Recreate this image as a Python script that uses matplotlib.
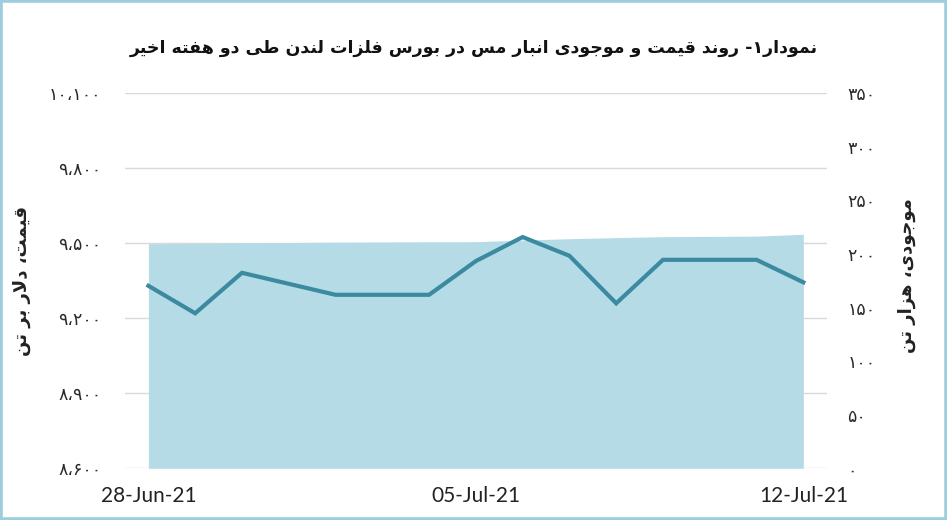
import re
import pandas as pd
import matplotlib
matplotlib.use("Agg")
import matplotlib.pyplot as plt
import matplotlib.dates as mdates
from matplotlib.patches import Rectangle

# data
dates = ["2021-06-28", "2021-06-29", "2021-06-30", "2021-07-02", "2021-07-04", "2021-07-05",
         "2021-07-06", "2021-07-07", "2021-07-08", "2021-07-09", "2021-07-11", "2021-07-12"]
price = [9330, 9220, 9382, 9294, 9294, 9429, 9525, 9450, 9260, 9434, 9434, 9344]
stock = [209.6, 210.0, 210.4, 211.0, 211.4, 211.5, 213.0, 214.3, 215.3, 216.2, 216.7, 218.4]
price_ticks = [8600, 8900, 9200, 9500, 9800, 10100]
stock_ticks = [0, 50, 100, 150, 200, 250, 300, 350]
xtick_dates = ["2021-06-28", "2021-07-05", "2021-07-12"]

title = "نمودار۱- روند قیمت و موجودی انبار مس در بورس فلزات لندن طی دو هفته اخیر"
left_label = "قیمت، دلار بر تن"
right_label = "موجودی، هزار تن"

# minimal arabic shaping, matplotlib does no joining or rtl
FORMS = {
    'ا': ('\uFE8D', '\uFE8E', None, None),
    'ب': ('\uFE8F', '\uFE90', '\uFE91', '\uFE92'),
    'ت': ('\uFE95', '\uFE96', '\uFE97', '\uFE98'),
    'ج': ('\uFE9D', '\uFE9E', '\uFE9F', '\uFEA0'),
    'خ': ('\uFEA5', '\uFEA6', '\uFEA7', '\uFEA8'),
    'د': ('\uFEA9', '\uFEAA', None, None),
    'ر': ('\uFEAD', '\uFEAE', None, None),
    'ز': ('\uFEAF', '\uFEB0', None, None),
    'س': ('\uFEB1', '\uFEB2', '\uFEB3', '\uFEB4'),
    'ط': ('\uFEC1', '\uFEC2', '\uFEC3', '\uFEC4'),
    'ف': ('\uFED1', '\uFED2', '\uFED3', '\uFED4'),
    'ق': ('\uFED5', '\uFED6', '\uFED7', '\uFED8'),
    'ل': ('\uFEDD', '\uFEDE', '\uFEDF', '\uFEE0'),
    'م': ('\uFEE1', '\uFEE2', '\uFEE3', '\uFEE4'),
    'ن': ('\uFEE5', '\uFEE6', '\uFEE7', '\uFEE8'),
    'ه': ('\uFEE9', '\uFEEA', '\uFEEB', '\uFEEC'),
    'و': ('\uFEED', '\uFEEE', None, None),
    'ی': ('\uFBFC', '\uFBFD', '\uFBFE', '\uFBFF'),
    '\uFEFB': ('\uFEFB', '\uFEFC', None, None),
}


def fa(s):
    s = s.replace('لا', '\uFEFB')
    out = []
    for i, c in enumerate(s):
        if c not in FORMS:
            out.append(c)
            continue
        iso, fin, ini, med = FORMS[c]
        p = s[i - 1] if i > 0 else ''
        n = s[i + 1] if i + 1 < len(s) else ''
        pj = p in FORMS and FORMS[p][2] is not None
        nj = n in FORMS
        if pj and nj and med:
            out.append(med)
        elif pj:
            out.append(fin)
        elif nj and ini:
            out.append(ini)
        else:
            out.append(iso)
    vis = ''.join(out)[::-1]
    return re.sub(r'[0-9\u06F0-\u06F9]+', lambda m: m.group(0)[::-1], vis)


def fa_num(v):
    t = "{:,}".format(v)
    return t.translate(str.maketrans("0123456789,", "۰۱۲۳۴۵۶۷۸۹،"))


x = pd.to_datetime(dates)
fig = plt.figure(figsize=(9.47, 5.2), dpi=100)
rect = [0.132, 0.0994, 0.741, 0.7212]

ax = fig.add_axes(rect)
ax.set_ylim(8600, 10100)
ax.set_yticks(price_ticks)
ax.set_yticklabels([fa_num(v) for v in price_ticks])
ax.grid(axis='y', color='#d9d9d9', linewidth=1)
ax.set_axisbelow(True)

ax2 = ax.twinx()
ax2.fill_between(x, stock, 0, color='#b5dce6', linewidth=0, zorder=2)
ax2.set_ylim(0, 350)
ax2.set_yticks(stock_ticks)
ax2.set_yticklabels([fa_num(v) for v in stock_ticks])
ax2.patch.set_visible(False)

ax3 = ax.twinx()
ax3.plot(x, price, color='#3b8aa0', linewidth=3, solid_joinstyle='miter')
ax3.set_ylim(8600, 10100)
ax3.set_yticks([])
ax3.patch.set_visible(False)

x0 = pd.Timestamp("2021-06-27 12:00")
x1 = pd.Timestamp("2021-07-12 12:00")
for a in (ax, ax2, ax3):
    a.set_xlim(x0, x1)
    for sp in a.spines.values():
        sp.set_visible(False)

ax.set_xticks(pd.to_datetime(xtick_dates))
ax.xaxis.set_major_formatter(mdates.DateFormatter('%d-%b-%y'))
ax.tick_params(axis='x', length=0, pad=13, labelsize=15, labelcolor='#222222')
for lab in ax.get_xticklabels():
    lab.set_family(['Lato', 'DejaVu Sans'])
ax.tick_params(axis='y', length=0, pad=17, labelsize=12.5, labelcolor='#2a2a2a')
ax2.tick_params(axis='y', length=0, pad=15, labelsize=12.5, labelcolor='#2a2a2a')
ax2.tick_params(axis='x', length=0, labelbottom=False)
ax3.tick_params(axis='x', length=0, labelbottom=False)

fig.text(0.5, 0.907, fa(title), ha='center', va='center', fontsize=12.5,
         fontweight='bold', family='DejaVu Sans', color='#111111')
fig.text(0.023, 0.46, fa(left_label), rotation=90, ha='center', va='center',
         fontsize=13, fontweight='bold', family='DejaVu Sans', color='#222222')
fig.text(0.958, 0.47, fa(right_label), rotation=90, ha='center', va='center',
         fontsize=13, fontweight='bold', family='DejaVu Sans', color='#222222')

fig.patches.append(Rectangle((0, 0), 1, 1, transform=fig.transFigure, fill=False,
                             edgecolor='#9ccfdb', linewidth=4))

fig.savefig('out.png', dpi=100)
